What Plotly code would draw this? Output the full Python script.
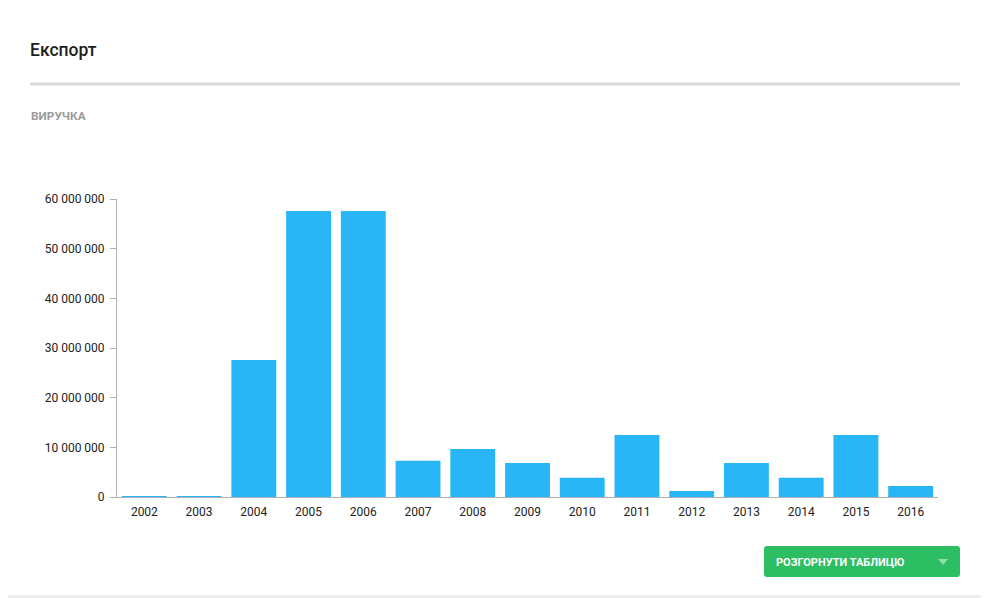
import plotly.graph_objects as go

years = ["2002", "2003", "2004", "2005", "2006", "2007", "2008", "2009",
         "2010", "2011", "2012", "2013", "2014", "2015", "2016"]
revenue = [40000, 40000, 27600000, 57600000, 57600000, 7300000, 9650000, 6850000,
           3880000, 12500000, 1200000, 6850000, 3880000, 12500000, 2200000]
tick_vals = [0, 10000000, 20000000, 30000000, 40000000, 50000000, 60000000]
tick_text = ["0", "10 000 000", "20 000 000", "30 000 000", "40 000 000",
             "50 000 000", "60 000 000"]

OFF = 8  # page body margin
W, H = 989 - OFF, 598 - OFF
FONT = "Roboto"

L, R_EDGE, TOP, BASE = 117, 938, 199, 497  # page pixel coords of plot area

fig = go.Figure(go.Bar(
    x=years, y=revenue,
    marker=dict(color="#29b6f6", line=dict(width=0)),
    hoverinfo="x+y",
))

fig.update_layout(
    width=W, height=H,
    margin=dict(l=L - OFF, r=989 - R_EDGE, t=TOP - OFF, b=598 - BASE),
    paper_bgcolor="white", plot_bgcolor="white",
    bargap=0.18,
    showlegend=False,
    font=dict(family=FONT, size=12, color="#222222"),
    xaxis=dict(
        type="category", showgrid=False, zeroline=False,
        showline=True, linecolor="#b0b0b0", linewidth=1,
        ticks="", tickfont=dict(size=12, color="#222222"),
        ticklabelstandoff=4,
        fixedrange=True,
    ),
    yaxis=dict(
        range=[0, 60000000], showgrid=False, zeroline=False,
        showline=True, linecolor="#b0b0b0", linewidth=1,
        ticks="outside", ticklen=6, tickcolor="#b0b0b0",
        tickvals=tick_vals, ticktext=tick_text,
        tickfont=dict(size=12, color="#222222"),
        ticklabelstandoff=3,
        fixedrange=True,
    ),
)

PW = R_EDGE - L
PH = BASE - TOP


def px_x(x):
    return (x - L) / PW


def px_y(y):
    return (BASE - y) / PH


shapes = [
    dict(type="line", xref="paper", yref="paper", x0=px_x(30), x1=px_x(960),
         y0=px_y(84), y1=px_y(84), line=dict(color="#d9d9d9", width=3)),
]

x0, x1, y0, y1, r = 764, 960, 546, 577, 3
path = (f"M {px_x(x0 + r)} {px_y(y0)} L {px_x(x1 - r)} {px_y(y0)} "
        f"Q {px_x(x1)} {px_y(y0)} {px_x(x1)} {px_y(y0 + r)} "
        f"L {px_x(x1)} {px_y(y1 - r)} Q {px_x(x1)} {px_y(y1)} {px_x(x1 - r)} {px_y(y1)} "
        f"L {px_x(x0 + r)} {px_y(y1)} Q {px_x(x0)} {px_y(y1)} {px_x(x0)} {px_y(y1 - r)} "
        f"L {px_x(x0)} {px_y(y0 + r)} Q {px_x(x0)} {px_y(y0)} {px_x(x0 + r)} {px_y(y0)} Z")
shapes.append(dict(type="path", xref="paper", yref="paper", path=path,
                   fillcolor="#2dbd62", line=dict(width=0), layer="above"))
tri = (f"M {px_x(938)} {px_y(559)} L {px_x(948)} {px_y(559)} "
       f"L {px_x(943)} {px_y(565)} Z")
shapes.append(dict(type="path", xref="paper", yref="paper", path=tri,
                   fillcolor="#8fe0ab", line=dict(width=0), layer="above"))
shapes.append(dict(type="rect", xref="paper", yref="paper",
                   x0=px_x(OFF), x1=px_x(989), y0=px_y(598), y1=px_y(595),
                   fillcolor="#eeeeee", line=dict(width=0), layer="above"))
fig.update_layout(shapes=shapes)

annotations = [
    dict(text="Експорт", xref="paper", yref="paper", x=px_x(28), y=px_y(50),
         xanchor="left", yanchor="middle", showarrow=False,
         font=dict(family=FONT, size=17.5, color="#1e1e1e", weight=500)),
    dict(text="<b>ВИРУЧКА</b>", xref="paper", yref="paper", x=px_x(29), y=px_y(116),
         xanchor="left", yanchor="middle", showarrow=False,
         font=dict(family=FONT, size=11.8, color="#9a9a9a")),
    dict(text="<b>РОЗГОРНУТИ ТАБЛИЦЮ</b>", xref="paper", yref="paper", x=px_x(774), y=px_y(562),
         xanchor="left", yanchor="middle", showarrow=False,
         font=dict(family=FONT, size=11, color="#ffffff")),
]
fig.update_layout(annotations=annotations)

fig.write_html("out.html", config={"displayModeBar": False})
